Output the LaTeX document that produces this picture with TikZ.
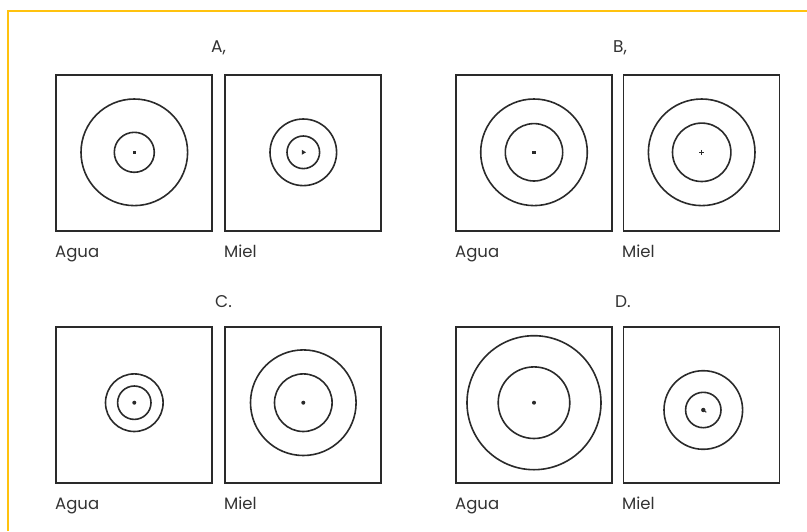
\documentclass[tikz,border=0pt]{standalone}
\usepackage{fontspec}
\setmainfont{Poppins}
\definecolor{ink}{HTML}{2A2A2A}
\definecolor{txt}{HTML}{333333}
\definecolor{frame}{HTML}{FFC20E}
\begin{document}
\begin{tikzpicture}[x=1pt,y=-1pt,
  box/.style={draw=ink,line width=1.8pt,inner sep=0pt,outer sep=0pt,minimum width=156pt,minimum height=156pt},
  ring/.style={draw=ink,line width=1.6pt},
  lbl/.style={anchor=base west,inner sep=0pt,text=txt,font=\fontsize{16.5}{18}\selectfont},
  ttl/.style={anchor=base west,inner sep=0pt,text=txt,font=\fontsize{17}{18}\selectfont}]
\useasboundingbox (0,0) rectangle (807,531);
% frame
\draw[frame,line width=2pt] (8,531) -- (8,11) -- (807,11);
% titles
\node[ttl] (tA) at (211,52) {A,};
\node[ttl] (tB) at (613,52) {B,};
\node[ttl] (tC) at (215,307) {C.};
\node[ttl] (tD) at (615,307) {D.};
% boxes
\node[box] (aA) at (133.7,153.3) {};
\node[box] (mA) at (302.7,153.3) {};
\node[box] (aB) at (533.7,153.3) {};
\node[box] (mB) at (701.5,153.3) {};
\node[box] (aC) at (133.7,405.3) {};
\node[box] (mC) at (302.7,405.3) {};
\node[box] (aD) at (533.7,405.3) {};
\node[box] (mD) at (701.5,405.3) {};
% labels
\foreach \n/\x/\y in {lA1/55/257,lB1/455/257,lC1/55/509,lD1/455/509}
  \node[lbl] (\n) at (\x,\y) {Agua};
\foreach \n/\x/\y in {lA2/224/257,lB2/622/257,lC2/224/509,lD2/622/509}
  \node[lbl] (\n) at (\x,\y) {Miel};
% A
\draw[ring] (134.3,152.3) circle (53.3) (134.3,152.3) circle (20);
\fill[ink] (132.6,150.6) rectangle (136,154);
\draw[ring] (303.3,152.3) circle (33.3) (303.3,152.3) circle (16.3);
\fill[ink] (301.8,149.8) -- (306,152.3) -- (301.8,154.8) -- cycle;
% B
\draw[ring] (534,152.3) circle (53.3) (534,152.3) circle (28.7);
\fill[ink] (532.4,150.7) rectangle (535.6,153.9);
\draw[ring] (701.7,152.3) circle (53.3) (701.7,152.3) circle (29.2);
\draw[ink,line width=1.2pt] (699.2,152.3) -- (704.2,152.3) (701.7,149.8) -- (701.7,154.8);
% C
\draw[ring] (134.3,402.7) circle (28.8) (134.3,402.7) circle (16.7);
\fill[ink] (134.3,402.7) circle (2);
\draw[ring] (303.3,402.7) circle (52.8) (303.3,402.7) circle (28.8);
\fill[ink] (303.3,402.7) circle (2);
% D
\draw[ring] (534,402.7) circle (67) (534,402.7) circle (35.8);
\fill[ink] (534,402.7) circle (2);
\draw[ring] (703.3,410) circle (39.3) (703.3,410) circle (17.7);
\fill[ink] (703.3,410) circle (2.2);
\draw[ink,line width=1pt] (703.3,410) -- (706.3,412.3);
\end{tikzpicture}
\end{document}
